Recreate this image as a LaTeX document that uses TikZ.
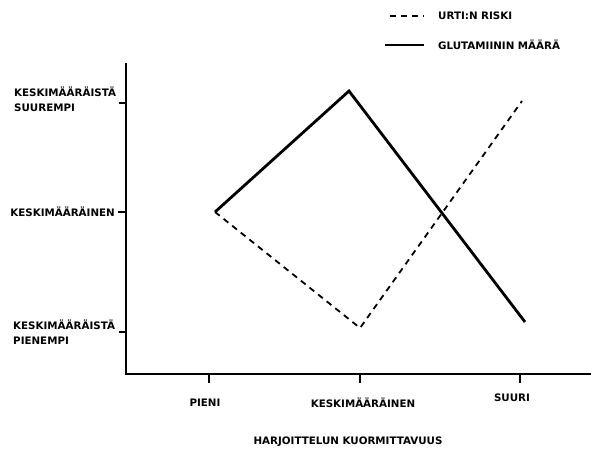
\documentclass[tikz,border=0pt]{standalone}
\usepackage{fontspec}
\setmainfont{DejaVu Sans}
\begin{document}
\begin{tikzpicture}[x=1pt,y=-1pt,
  lbl/.style={font=\fontsize{10.3}{12}\selectfont\bfseries, inner sep=0pt},
  axisline/.style={line width=2pt},
  tickline/.style={line width=1.6pt},
  solidcurve/.style={line width=2.8pt, line join=miter},
  dashcurve/.style={line width=1.8pt, dash pattern=on 6pt off 5pt}]
\useasboundingbox (0,0) rectangle (591,454);
% axes
\coordinate (ytop) at (126,63);
\coordinate (origin) at (126,374);
\coordinate (xend) at (591,374);
\draw[axisline] (ytop) -- (origin) -- (xend);
% y ticks
\coordinate (yt1) at (126,103); \coordinate (yt1a) at (119,103);
\coordinate (yt2) at (126,212); \coordinate (yt2a) at (118,212);
\coordinate (yt3) at (126,332); \coordinate (yt3a) at (119,332);
\draw[tickline] (yt1) -- (yt1a);
\draw[tickline] (yt2) -- (yt2a);
\draw[tickline] (yt3) -- (yt3a);
% x ticks
\coordinate (xt1) at (209,374); \coordinate (xt1a) at (209,383);
\coordinate (xt2) at (360,374); \coordinate (xt2a) at (360,383);
\coordinate (xt3) at (520,374); \coordinate (xt3a) at (520,383);
\draw[tickline] (xt1) -- (xt1a);
\draw[tickline] (xt2) -- (xt2a);
\draw[tickline] (xt3) -- (xt3a);
% y labels
\node[lbl, anchor=west, align=left] (ylab1) at (14,99.5) {KESKIMÄÄRÄISTÄ\\[3pt]SUUREMPI};
\node[lbl, anchor=east] (ylab2) at (115,212) {KESKIMÄÄRÄINEN};
\node[lbl, anchor=west, align=left] (ylab3) at (13,332.5) {KESKIMÄÄRÄISTÄ\\[3pt]PIENEMPI};
% x labels
\node[lbl] (xlab1) at (205,403) {PIENI};
\node[lbl] (xlab2) at (363,403) {KESKIMÄÄRÄINEN};
\node[lbl] (xlab3) at (512,398) {SUURI};
\node[lbl] (xtitle) at (348,442) {HARJOITTELUN KUORMITTAVUUS};
% data points
\coordinate (s1) at (215,212);
\coordinate (s2) at (349,91);
\coordinate (s3) at (525,322);
\coordinate (d2) at (360,328);
\coordinate (d3) at (522,101);
\draw[solidcurve] (s1) -- (s2) -- (s3);
\draw[dashcurve] (s1) -- (d2) -- (d3);
% legend
\coordinate (l1a) at (390,16); \coordinate (l1b) at (424,16);
\coordinate (l2a) at (385,45); \coordinate (l2b) at (424,45);
\draw[dashcurve] (l1a) -- (l1b);
\draw[solidcurve] (l2a) -- (l2b);
\node[lbl, anchor=west] (leg1) at (438,16) {URTI:N RISKI};
\node[lbl, anchor=west] (leg2) at (438,45) {GLUTAMIININ MÄÄRÄ};
\end{tikzpicture}
\end{document}
